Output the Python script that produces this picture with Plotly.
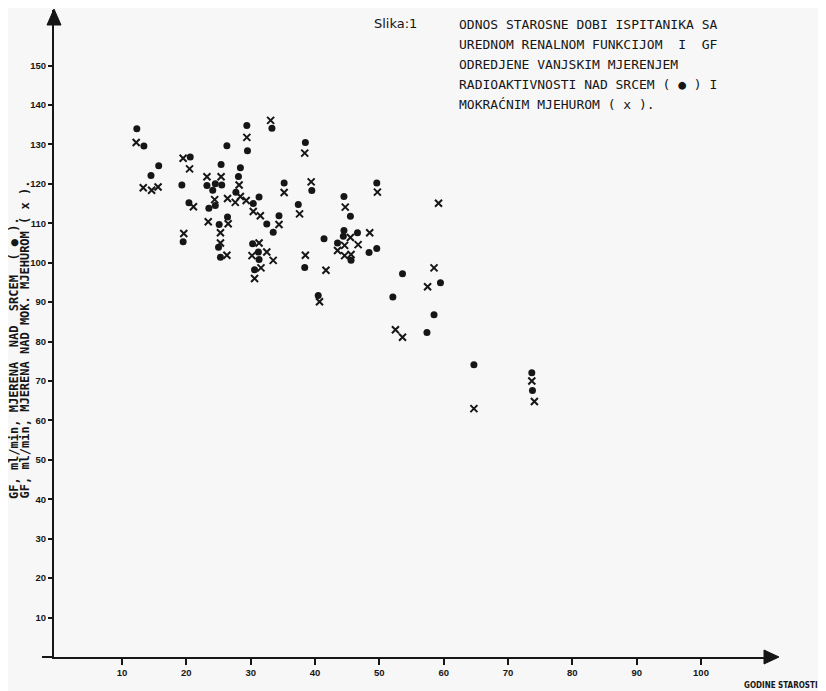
import plotly.graph_objects as go

# ---- data ----
# heart (dots)
age_heart = [12.3, 13.4, 15.7, 14.5, 20.6, 19.3, 20.4, 19.5, 23.2, 24.5, 24.1, 25.4, 25.5, 24.5,
             23.5, 26.3, 26.4, 25.1, 25.0, 25.3, 28.4, 28.1, 27.7, 29.4, 29.5, 31.3, 30.4, 32.5,
             34.4, 33.5, 30.3, 31.2, 31.3, 30.6, 33.3, 35.2, 39.5, 37.4, 38.5, 41.4, 38.4, 40.5,
             44.5, 45.5, 49.6, 44.5, 44.4, 46.6, 43.5, 45.6, 48.4, 49.6, 53.6, 59.5, 52.1, 58.5,
             57.4, 64.7, 73.7, 73.8]
gf_heart = [134.0, 129.6, 124.6, 122.1, 126.8, 119.7, 115.2, 105.3, 119.6, 120.0, 118.4, 124.9,
            119.7, 114.5, 113.8, 129.7, 111.6, 109.7, 103.9, 101.4, 124.1, 121.9, 117.9, 134.8,
            128.4, 116.7, 115.0, 109.8, 111.9, 107.7, 104.8, 102.7, 100.8, 98.2, 134.1, 120.2,
            118.3, 114.8, 130.5, 106.1, 98.8, 91.7, 116.8, 111.8, 120.2, 108.2, 106.7, 107.6,
            105.0, 100.6, 102.6, 103.6, 97.2, 94.9, 91.3, 86.8, 82.3, 74.1, 72.1, 67.6]

# bladder (x)
age_bladder = [12.2, 13.3, 14.6, 15.6, 19.5, 20.5, 21.1, 19.6, 23.2, 25.4, 24.4, 23.4, 26.5, 26.4,
               25.3, 25.3, 26.3, 28.2, 28.4, 27.6, 29.3, 29.4, 30.4, 31.5, 34.4, 31.3, 30.2, 32.5,
               33.5, 31.6, 30.6, 33.1, 35.2, 39.4, 37.6, 38.4, 38.5, 41.7, 40.7, 44.7, 49.7, 59.2,
               45.5, 48.5, 44.6, 46.7, 43.5, 44.6, 45.6, 58.5, 57.5, 52.5, 53.6, 64.7, 73.7, 74.1]
gf_bladder = [130.5, 119.0, 118.4, 119.2, 126.5, 123.8, 114.2, 107.4, 121.8, 121.8, 116.0, 110.4,
              109.9, 116.3, 107.6, 105.0, 101.9, 119.7, 116.8, 115.3, 115.8, 131.8, 113.0, 111.9,
              109.7, 105.0, 101.8, 102.7, 100.6, 98.7, 96.0, 136.1, 117.8, 120.5, 112.4, 127.8,
              101.9, 98.1, 90.1, 114.1, 117.9, 115.1, 106.4, 107.6, 104.4, 104.6, 103.1, 101.8,
              102.1, 98.7, 93.9, 83.0, 81.1, 63.0, 70.0, 64.8]

x_ticks = [10, 20, 30, 40, 50, 60, 70, 80, 90, 100]
y_ticks = [10, 20, 30, 40, 50, 60, 70, 80, 90, 100, 110, 120, 130, 140, 150]

title_lines = [
    "ODNOS STAROSNE DOBI ISPITANIKA SA",
    "UREDNOM RENALNOM FUNKCIJOM\u00a0 I\u00a0 GF",
    "ODREDJENE VANJSKIM MJERENJEM",
    "RADIOAKTIVNOSTI NAD SRCEM ( \u25cf ) I",
    "MOKRAĆNIM MJEHUROM ( x ).",
]
ylab1 = "GF, ml/min, MJERENA\u00a0 NAD\u00a0 SRCEM\u00a0 ( \u25cf )."
ylab2 = "GF, ml/min, MJERENA NAD MOK. MJEHUROM ( x )."

# ---- layout geometry (page pixels; the page body adds an 8 px margin) ----
OFF = 8
W, H = 826 - OFF, 691 - OFF
L, R, T, B = 54, 776, 10, 657          # plot area in page pixels
BG = "#f7f7f7"
INK = "#161616"


def px(x):
    return (x - L) / (R - L)


def py(y):
    return (B - y) / (B - T)


fig = go.Figure()
fig.add_trace(go.Scatter(x=age_heart, y=gf_heart, mode="markers",
                         marker=dict(symbol="circle", size=7, color=INK),
                         cliponaxis=False, showlegend=False))
fig.add_trace(go.Scatter(x=age_bladder, y=gf_bladder, mode="markers",
                         marker=dict(symbol="x-thin", size=7, color=INK,
                                     line=dict(width=2, color=INK)),
                         cliponaxis=False, showlegend=False))

tickfont = dict(family="Liberation Sans, Arial", size=9.5, color=INK, weight="bold")

fig.update_xaxes(range=[-0.575, 111.66], tickvals=x_ticks, showgrid=False, zeroline=False,
                 showline=True, linewidth=2, linecolor=INK, ticks="outside", ticklen=6,
                 tickwidth=1.5, tickcolor=INK, tickfont=tickfont)
fig.update_yaxes(range=[0, 164.1], tickvals=y_ticks, showgrid=False, zeroline=False,
                 showline=True, linewidth=2, linecolor=INK, ticks="outside", ticklen=4,
                 tickwidth=1.5, tickcolor=INK, tickfont=tickfont)

shapes = [
    # arrow head on y axis
    dict(type="path", xref="paper", yref="paper",
         path=f"M {px(47)} {py(25)} L {px(61)} {py(25)} L {px(54)} {py(9)} Z",
         fillcolor=INK, line=dict(color=INK, width=1)),
    # arrow head on x axis
    dict(type="path", xref="paper", yref="paper",
         path=f"M {px(764)} {py(650)} L {px(764)} {py(664)} L {px(779)} {py(657)} Z",
         fillcolor=INK, line=dict(color=INK, width=1)),
    # small extension of x axis left of origin
    dict(type="line", xref="paper", yref="paper", x0=px(42), x1=px(54), y0=py(657), y1=py(657),
         line=dict(color=INK, width=2)),
]

ann = []
mono = "DejaVu Sans Mono, Liberation Mono, monospace"
ann.append(dict(xref="paper", yref="paper", x=px(372), y=py(23), xanchor="left", yanchor="middle",
                text="Slika:1", showarrow=False,
                font=dict(family="DejaVu Sans, Arial", size=13, color=INK)))
line_y = [25, 45, 65, 85, 104]
for t, yy in zip(title_lines, line_y):
    ann.append(dict(xref="paper", yref="paper", x=px(457), y=py(yy), xanchor="left",
                    yanchor="middle", text=t, showarrow=False,
                    font=dict(family=mono, size=13, color=INK)))
ann.append(dict(xref="paper", yref="paper", x=px(14), y=py(500), xanchor="center",
                yanchor="bottom", text=ylab1, textangle=-90, showarrow=False, borderpad=0,
                font=dict(family=mono, size=12, color=INK, weight="bold")))
ann.append(dict(xref="paper", yref="paper", x=px(24.5), y=py(500), xanchor="center",
                yanchor="bottom", text=ylab2, textangle=-90, showarrow=False, borderpad=0,
                font=dict(family=mono, size=12, color=INK, weight="bold")))
ann.append(dict(xref="paper", yref="paper", x=px(742), y=py(685), xanchor="left",
                yanchor="middle", text="GODINE STAROSTI", showarrow=False,
                font=dict(family="Liberation Sans Narrow, DejaVu Sans Condensed, Arial Narrow",
                          size=8, color=INK, weight="bold")))

fig.update_layout(width=W, height=H,
                  margin=dict(l=L - OFF, r=(W + OFF) - R, t=T - OFF, b=(H + OFF) - B, pad=0),
                  paper_bgcolor=BG, plot_bgcolor=BG, shapes=shapes, annotations=ann,
                  showlegend=False)

fig.write_html("out.html")
